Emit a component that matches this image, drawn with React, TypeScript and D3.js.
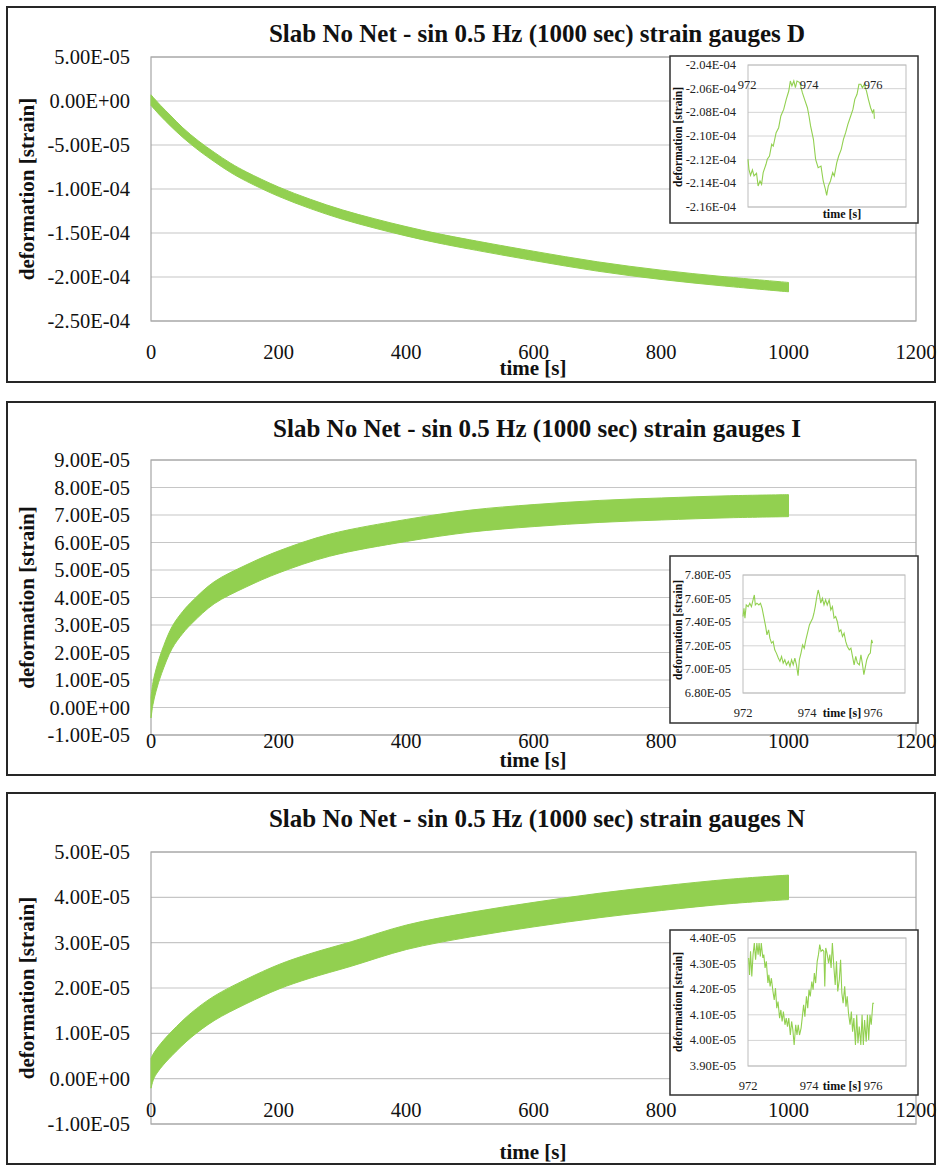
import React from 'react';
import * as d3 from 'd3';

// ---- main series: envelope of the 0.5 Hz strain signal over 1000 s ----
const timeD = [0, 15, 30, 50, 75, 100, 125, 150, 200, 250, 300, 350, 400, 450, 500, 600, 700, 800, 900, 1000];
const upperD = [0.7e-5, -0.5e-5, -1.6e-5, -3.05e-5, -4.57e-5, -5.87e-5, -7.07e-5, -8.07e-5, -9.77e-5, -11.17e-5, -12.37e-5, -13.37e-5, -14.27e-5, -15.07e-5, -15.77e-5, -17.07e-5, -18.27e-5, -19.22e-5, -19.97e-5, -20.62e-5];
const lowerD = [-0.5e-5, -1.7e-5, -2.8e-5, -4.15e-5, -5.63e-5, -6.93e-5, -8.13e-5, -9.13e-5, -10.83e-5, -12.23e-5, -13.43e-5, -14.43e-5, -15.33e-5, -16.13e-5, -16.83e-5, -18.13e-5, -19.33e-5, -20.28e-5, -21.03e-5, -21.68e-5];

const timeI = [0, 3, 8, 16.5, 33, 50, 66, 99, 149, 201, 280, 401, 502, 601, 703, 801, 908, 1000];
const upperI = [0.38e-5, 0.9e-5, 1.4e-5, 2.03e-5, 2.94e-5, 3.5e-5, 3.9e-5, 4.57e-5, 5.18e-5, 5.7e-5, 6.3e-5, 6.84e-5, 7.18e-5, 7.38e-5, 7.53e-5, 7.62e-5, 7.7e-5, 7.74e-5];
const lowerI = [-0.38e-5, 0.1e-5, 0.6e-5, 1.23e-5, 2.14e-5, 2.7e-5, 3.1e-5, 3.77e-5, 4.38e-5, 4.9e-5, 5.5e-5, 6.04e-5, 6.38e-5, 6.58e-5, 6.73e-5, 6.82e-5, 6.9e-5, 6.94e-5];

const timeN = [0, 5, 15, 33, 63, 99, 149, 201, 248, 314, 401, 502, 601, 703, 801, 908, 1000];
const upperN = [0.45e-5, 0.58e-5, 0.77e-5, 1.05e-5, 1.45e-5, 1.82e-5, 2.19e-5, 2.52e-5, 2.75e-5, 3.02e-5, 3.39e-5, 3.67e-5, 3.89e-5, 4.09e-5, 4.25e-5, 4.4e-5, 4.49e-5];
const lowerN = [-0.21e-5, 0.02e-5, 0.23e-5, 0.51e-5, 0.91e-5, 1.28e-5, 1.65e-5, 1.98e-5, 2.21e-5, 2.48e-5, 2.85e-5, 3.13e-5, 3.35e-5, 3.55e-5, 3.71e-5, 3.86e-5, 3.95e-5];

// ---- detail windows 972–976 s ----
const insetTimeD = [972.0, 972.03, 972.08, 972.14, 972.19, 972.27, 972.32, 972.38, 972.43, 972.48, 972.57, 972.61, 972.68, 972.75, 972.8, 972.89, 972.97, 973.04, 973.13, 973.21, 973.29, 973.34, 973.39, 973.45, 973.5, 973.55, 973.64, 973.72, 973.79, 973.88, 973.93, 973.98, 974.07, 974.14, 974.22, 974.31, 974.38, 974.45, 974.49, 974.54, 974.61, 974.68, 974.73, 974.81, 974.87, 974.95, 975.02, 975.09, 975.16, 975.25, 975.32, 975.38, 975.45, 975.51, 975.57, 975.62, 975.68, 975.75, 975.81, 975.88, 975.94, 975.98, 976.0];
const insetValD = [-211.97e-6, -212.82e-6, -213.32e-6, -212.87e-6, -213.38e-6, -213.15e-6, -214.23e-6, -213.8e-6, -214.08e-6, -213.1e-6, -212.39e-6, -211.97e-6, -211.69e-6, -210.7e-6, -210.85e-6, -209.72e-6, -209.3e-6, -208.31e-6, -207.75e-6, -206.9e-6, -206.2e-6, -205.35e-6, -205.77e-6, -205.35e-6, -205.92e-6, -205.35e-6, -205.49e-6, -206.34e-6, -206.9e-6, -207.61e-6, -208.31e-6, -209.15e-6, -210.28e-6, -211.97e-6, -212.68e-6, -212.54e-6, -213.8e-6, -214.51e-6, -215.01e-6, -214.23e-6, -213.8e-6, -213.1e-6, -213.38e-6, -212.25e-6, -211.69e-6, -211.13e-6, -210.28e-6, -209.72e-6, -209.01e-6, -208.31e-6, -207.75e-6, -206.9e-6, -206.48e-6, -205.63e-6, -205.63e-6, -205.92e-6, -205.63e-6, -206.2e-6, -206.9e-6, -207.61e-6, -208.03e-6, -207.75e-6, -208.54e-6];

const insetTimeI = [972.0, 972.03, 972.06, 972.1, 972.16, 972.21, 972.26, 972.31, 972.35, 972.38, 972.43, 972.49, 972.54, 972.59, 972.64, 972.7, 972.74, 972.79, 972.83, 972.88, 972.93, 972.98, 973.03, 973.09, 973.14, 973.19, 973.24, 973.29, 973.34, 973.4, 973.45, 973.5, 973.55, 973.6, 973.65, 973.7, 973.74, 973.79, 973.84, 973.89, 973.94, 973.99, 974.05, 974.1, 974.15, 974.19, 974.23, 974.27, 974.32, 974.36, 974.4, 974.45, 974.5, 974.55, 974.6, 974.66, 974.71, 974.76, 974.81, 974.86, 974.91, 974.97, 975.02, 975.07, 975.12, 975.17, 975.22, 975.28, 975.33, 975.38, 975.43, 975.48, 975.53, 975.59, 975.64, 975.69, 975.73, 975.77, 975.82, 975.88, 975.93, 975.97, 976.0];
const insetValI = [7.448e-5, 7.518e-5, 7.434e-5, 7.546e-5, 7.532e-5, 7.561e-5, 7.532e-5, 7.589e-5, 7.631e-5, 7.546e-5, 7.561e-5, 7.546e-5, 7.561e-5, 7.518e-5, 7.448e-5, 7.363e-5, 7.293e-5, 7.335e-5, 7.265e-5, 7.223e-5, 7.237e-5, 7.166e-5, 7.138e-5, 7.096e-5, 7.068e-5, 7.11e-5, 7.054e-5, 7.082e-5, 7.039e-5, 7.068e-5, 7.025e-5, 7.082e-5, 7.039e-5, 7.096e-5, 7.039e-5, 6.946e-5, 7.082e-5, 7.138e-5, 7.208e-5, 7.18e-5, 7.251e-5, 7.307e-5, 7.377e-5, 7.406e-5, 7.434e-5, 7.476e-5, 7.532e-5, 7.603e-5, 7.673e-5, 7.631e-5, 7.561e-5, 7.603e-5, 7.546e-5, 7.589e-5, 7.546e-5, 7.589e-5, 7.504e-5, 7.532e-5, 7.434e-5, 7.448e-5, 7.406e-5, 7.321e-5, 7.335e-5, 7.279e-5, 7.307e-5, 7.237e-5, 7.194e-5, 7.166e-5, 7.18e-5, 7.11e-5, 7.039e-5, 7.11e-5, 7.054e-5, 7.039e-5, 7.124e-5, 7.039e-5, 6.955e-5, 7.011e-5, 7.082e-5, 7.124e-5, 7.138e-5, 7.251e-5, 7.223e-5];

const insetTimeN = [972.02, 972.05, 972.08, 972.12, 972.16, 972.2, 972.24, 972.28, 972.32, 972.35, 972.39, 972.42, 972.47, 972.5, 972.54, 972.58, 972.63, 972.66, 972.7, 972.74, 972.79, 972.83, 972.87, 972.91, 972.95, 973.0, 973.04, 973.08, 973.12, 973.17, 973.21, 973.25, 973.29, 973.34, 973.38, 973.42, 973.46, 973.51, 973.55, 973.59, 973.63, 973.68, 973.72, 973.76, 973.8, 973.85, 973.89, 973.93, 973.97, 974.02, 974.06, 974.1, 974.14, 974.19, 974.23, 974.27, 974.31, 974.36, 974.4, 974.43, 974.46, 974.5, 974.55, 974.59, 974.63, 974.67, 974.72, 974.76, 974.8, 974.84, 974.89, 974.93, 974.97, 975.01, 975.06, 975.1, 975.14, 975.18, 975.23, 975.27, 975.31, 975.35, 975.4, 975.44, 975.48, 975.52, 975.57, 975.61, 975.65, 975.69, 975.74, 975.78, 975.82, 975.86, 975.9, 975.95, 975.99];
const insetValN = [4.322e-5, 4.256e-5, 4.348e-5, 4.25e-5, 4.335e-5, 4.38e-5, 4.315e-5, 4.38e-5, 4.335e-5, 4.38e-5, 4.328e-5, 4.38e-5, 4.322e-5, 4.335e-5, 4.283e-5, 4.309e-5, 4.224e-5, 4.256e-5, 4.211e-5, 4.243e-5, 4.191e-5, 4.158e-5, 4.204e-5, 4.126e-5, 4.152e-5, 4.087e-5, 4.119e-5, 4.074e-5, 4.113e-5, 4.061e-5, 4.087e-5, 4.054e-5, 4.087e-5, 4.021e-5, 4.074e-5, 4.041e-5, 3.982e-5, 4.061e-5, 4.021e-5, 4.061e-5, 4.021e-5, 4.048e-5, 4.093e-5, 4.139e-5, 4.093e-5, 4.172e-5, 4.126e-5, 4.198e-5, 4.172e-5, 4.23e-5, 4.198e-5, 4.263e-5, 4.224e-5, 4.309e-5, 4.335e-5, 4.374e-5, 4.348e-5, 4.354e-5, 4.348e-5, 4.211e-5, 4.361e-5, 4.341e-5, 4.302e-5, 4.335e-5, 4.283e-5, 4.38e-5, 4.283e-5, 4.217e-5, 4.309e-5, 4.191e-5, 4.237e-5, 4.315e-5, 4.185e-5, 4.145e-5, 4.211e-5, 4.132e-5, 4.172e-5, 4.106e-5, 4.061e-5, 4.113e-5, 4.034e-5, 4.087e-5, 3.982e-5, 4.1e-5, 3.989e-5, 4.054e-5, 3.982e-5, 4.1e-5, 3.982e-5, 4.08e-5, 3.995e-5, 4.1e-5, 4.002e-5, 4.1e-5, 4.061e-5, 4.145e-5, 4.145e-5];

// ---- axes ----
const xTicksMain = [0, 200, 400, 600, 800, 1000, 1200];
const yTicksD = [5e-5, 0, -5e-5, -1e-4, -1.5e-4, -2e-4, -2.5e-4];
const yTicksI = [9e-5, 8e-5, 7e-5, 6e-5, 5e-5, 4e-5, 3e-5, 2e-5, 1e-5, 0, -1e-5];
const yTicksN = [5e-5, 4e-5, 3e-5, 2e-5, 1e-5, 0, -1e-5];
const insetXTicks = [972, 974, 976];
const insetYTicksD = [-2.04e-4, -2.06e-4, -2.08e-4, -2.1e-4, -2.12e-4, -2.14e-4, -2.16e-4];
const insetYTicksI = [7.8e-5, 7.6e-5, 7.4e-5, 7.2e-5, 7.0e-5, 6.8e-5];
const insetYTicksN = [4.4e-5, 4.3e-5, 4.2e-5, 4.1e-5, 4.0e-5, 3.9e-5];

const titles = [
  'Slab No Net - sin 0.5 Hz (1000 sec) strain gauges D',
  'Slab No Net - sin 0.5 Hz (1000 sec) strain gauges I',
  'Slab No Net - sin 0.5 Hz (1000 sec) strain gauges N',
];
const yTitle = 'deformation [strain]';
const xTitle = 'time [s]';

const FONT = '"Liberation Serif", "Times New Roman", Times, serif';
const GREEN = '#92D050';
const GRID = '#C6C6C6';
const FRAME = '#A6A6A6';

// Excel-style "0.00E+00" number format
function sci(v: number): string {
  if (Math.abs(v) < 1e-15) return '0.00E+00';
  const [m, e] = v.toExponential(2).split('e');
  const n = parseInt(e, 10);
  return `${m}E${n < 0 ? '-' : '+'}${String(Math.abs(n)).padStart(2, '0')}`;
}

type Box = { x0: number; y0: number; x1: number; y1: number };

interface InsetProps {
  box: Box;
  plot: Box;
  times: number[];
  values: number[];
  yDomain: [number, number];
  yTicks: number[];
  xLabelY: number;
  xLabelPos: number[];
  timeTitle: [number, number];
  yTitleY: number;
}

function Inset(p: InsetProps) {
  const x = d3.scaleLinear().domain([972, 977]).range([p.plot.x0, p.plot.x1]);
  const y = d3.scaleLinear().domain(p.yDomain).range([p.plot.y1, p.plot.y0]);
  const pts = p.times.map((t, i) => [t, p.values[i]] as [number, number]);
  const line = d3.line<[number, number]>().x((d) => x(d[0])).y((d) => y(d[1]));
  return (
    <g>
      <rect x={p.box.x0} y={p.box.y0} width={p.box.x1 - p.box.x0} height={p.box.y1 - p.box.y0}
        fill="white" stroke="#303030" strokeWidth={1.5} />
      {p.yTicks.map((t) => (
        <line key={'g' + t} x1={p.plot.x0} x2={p.plot.x1} y1={y(t)} y2={y(t)} stroke="#D4D4D4" strokeWidth={1} />
      ))}
      <rect x={p.plot.x0} y={p.plot.y0} width={p.plot.x1 - p.plot.x0} height={p.plot.y1 - p.plot.y0}
        fill="none" stroke="#BDBDBD" strokeWidth={1} />
      <path d={line(pts) || ''} fill="none" stroke={GREEN} strokeWidth={1.1} />
      {p.yTicks.map((t) => (
        <text key={'l' + t} x={p.plot.x0 - 12} y={y(t)} textAnchor="end" dominantBaseline="central"
          fontSize={12.5} fill="#222">{sci(t)}</text>
      ))}
      {insetXTicks.map((t, i) => (
        <text key={'x' + t} x={p.xLabelPos[i]} y={p.xLabelY} textAnchor="middle" dominantBaseline="central"
          fontSize={12.5} fill="#222">{t}</text>
      ))}
      <text x={p.timeTitle[0]} y={p.timeTitle[1]} textAnchor="middle" dominantBaseline="central"
        fontSize={12} fontWeight="bold" fill="#111">{xTitle}</text>
      <text transform={`translate(${p.box.x0 + 8},${p.yTitleY}) rotate(-90)`} textAnchor="middle"
        dominantBaseline="central" fontSize={11.5} fontWeight="bold" fill="#111">{yTitle}</text>
    </g>
  );
}

interface PanelProps {
  box: Box;
  title: string;
  titleY: number;
  plot: Box;
  yDomain: [number, number];
  yTicks: number[];
  times: number[];
  upper: number[];
  lower: number[];
  xLabelY: number;
  timeTitleY: number;
  inset: InsetProps;
}

function Panel(p: PanelProps) {
  const x = d3.scaleLinear().domain([0, 1200]).range([p.plot.x0, p.plot.x1]);
  const y = d3.scaleLinear().domain(p.yDomain).range([p.plot.y1, p.plot.y0]);
  const idx = d3.range(p.times.length);
  const band = d3
    .area<number>()
    .x((i) => x(p.times[i]))
    .y0((i) => y(p.lower[i]))
    .y1((i) => y(p.upper[i]))
    .curve(d3.curveCatmullRom.alpha(0.5));
  return (
    <g>
      <rect x={p.box.x0} y={p.box.y0} width={p.box.x1 - p.box.x0} height={p.box.y1 - p.box.y0}
        fill="white" stroke="#262626" strokeWidth={2} />
      <text x={537} y={p.titleY} textAnchor="middle" dominantBaseline="central" fontSize={25}
        fontWeight="bold" fill="#111">{p.title}</text>
      {p.yTicks.map((t) => (
        <line key={'g' + t} x1={p.plot.x0} x2={p.plot.x1} y1={y(t)} y2={y(t)} stroke={GRID} strokeWidth={1.2} />
      ))}
      <rect x={p.plot.x0} y={p.plot.y0} width={p.plot.x1 - p.plot.x0} height={p.plot.y1 - p.plot.y0}
        fill="none" stroke={FRAME} strokeWidth={1.2} />
      <path d={band(idx) || ''} fill={GREEN} stroke={GREEN} strokeWidth={1} />
      {p.yTicks.map((t) => (
        <text key={'l' + t} x={p.plot.x0 - 21} y={y(t)} textAnchor="end" dominantBaseline="central"
          fontSize={20.5} fill="#111">{sci(t)}</text>
      ))}
      {xTicksMain.map((t) => (
        <text key={'x' + t} x={x(t)} y={p.xLabelY} textAnchor="middle" dominantBaseline="central"
          fontSize={20.5} fill="#111">{t}</text>
      ))}
      <text x={533} y={p.timeTitleY} textAnchor="middle" dominantBaseline="central" fontSize={21}
        fontWeight="bold" fill="#111">{xTitle}</text>
      <text transform={`translate(27,${(p.plot.y0 + p.plot.y1) / 2}) rotate(-90)`} textAnchor="middle"
        dominantBaseline="central" fontSize={21} fontWeight="bold" fill="#111">{yTitle}</text>
      <Inset {...p.inset} />
    </g>
  );
}

export default function App() {
  const panels: PanelProps[] = [
    {
      box: { x0: 7, y0: 7, x1: 935, y1: 382 },
      title: titles[0],
      titleY: 33,
      plot: { x0: 151, y0: 57, x1: 916, y1: 321 },
      yDomain: [-2.5e-4, 5e-5],
      yTicks: yTicksD,
      times: timeD,
      upper: upperD,
      lower: lowerD,
      xLabelY: 352,
      timeTitleY: 368,
      inset: {
        box: { x0: 670, y0: 56, x1: 918, y1: 223 },
        plot: { x0: 748, y0: 65, x1: 906, y1: 207 },
        times: insetTimeD,
        values: insetValD,
        yDomain: [-2.16e-4, -2.04e-4],
        yTicks: insetYTicksD,
        xLabelY: 85,
        xLabelPos: [747, 809, 873],
        timeTitle: [842, 214],
        yTitleY: 137,
      },
    },
    {
      box: { x0: 7, y0: 402, x1: 935, y1: 775 },
      title: titles[1],
      titleY: 428,
      plot: { x0: 151, y0: 460, x1: 916, y1: 735 },
      yDomain: [-1e-5, 9e-5],
      yTicks: yTicksI,
      times: timeI,
      upper: upperI,
      lower: lowerI,
      xLabelY: 741,
      timeTitleY: 760,
      inset: {
        box: { x0: 670, y0: 556, x1: 918, y1: 723 },
        plot: { x0: 743, y0: 575, x1: 905, y1: 693 },
        times: insetTimeI,
        values: insetValI,
        yDomain: [6.8e-5, 7.8e-5],
        yTicks: insetYTicksI,
        xLabelY: 713,
        xLabelPos: [743, 807, 873],
        timeTitle: [842, 713],
        yTitleY: 630,
      },
    },
    {
      box: { x0: 7, y0: 793, x1: 935, y1: 1164 },
      title: titles[2],
      titleY: 818,
      plot: { x0: 151, y0: 852, x1: 916, y1: 1124 },
      yDomain: [-1e-5, 5e-5],
      yTicks: yTicksN,
      times: timeN,
      upper: upperN,
      lower: lowerN,
      xLabelY: 1110,
      timeTitleY: 1152,
      inset: {
        box: { x0: 670, y0: 930, x1: 918, y1: 1095 },
        plot: { x0: 748, y0: 938, x1: 906, y1: 1066 },
        times: insetTimeN,
        values: insetValN,
        yDomain: [3.9e-5, 4.4e-5],
        yTicks: insetYTicksN,
        xLabelY: 1086,
        xLabelPos: [748, 809, 873],
        timeTitle: [842, 1086],
        yTitleY: 1002,
      },
    },
  ];
  return (
    <svg width={937} height={1166} viewBox="0 0 937 1166"
      style={{ position: 'absolute', left: 0, top: 0, background: 'white', fontFamily: FONT }}>
      <rect x={0} y={0} width={937} height={1166} fill="white" />
      {panels.map((p, i) => (
        <Panel key={i} {...p} />
      ))}
    </svg>
  );
}
